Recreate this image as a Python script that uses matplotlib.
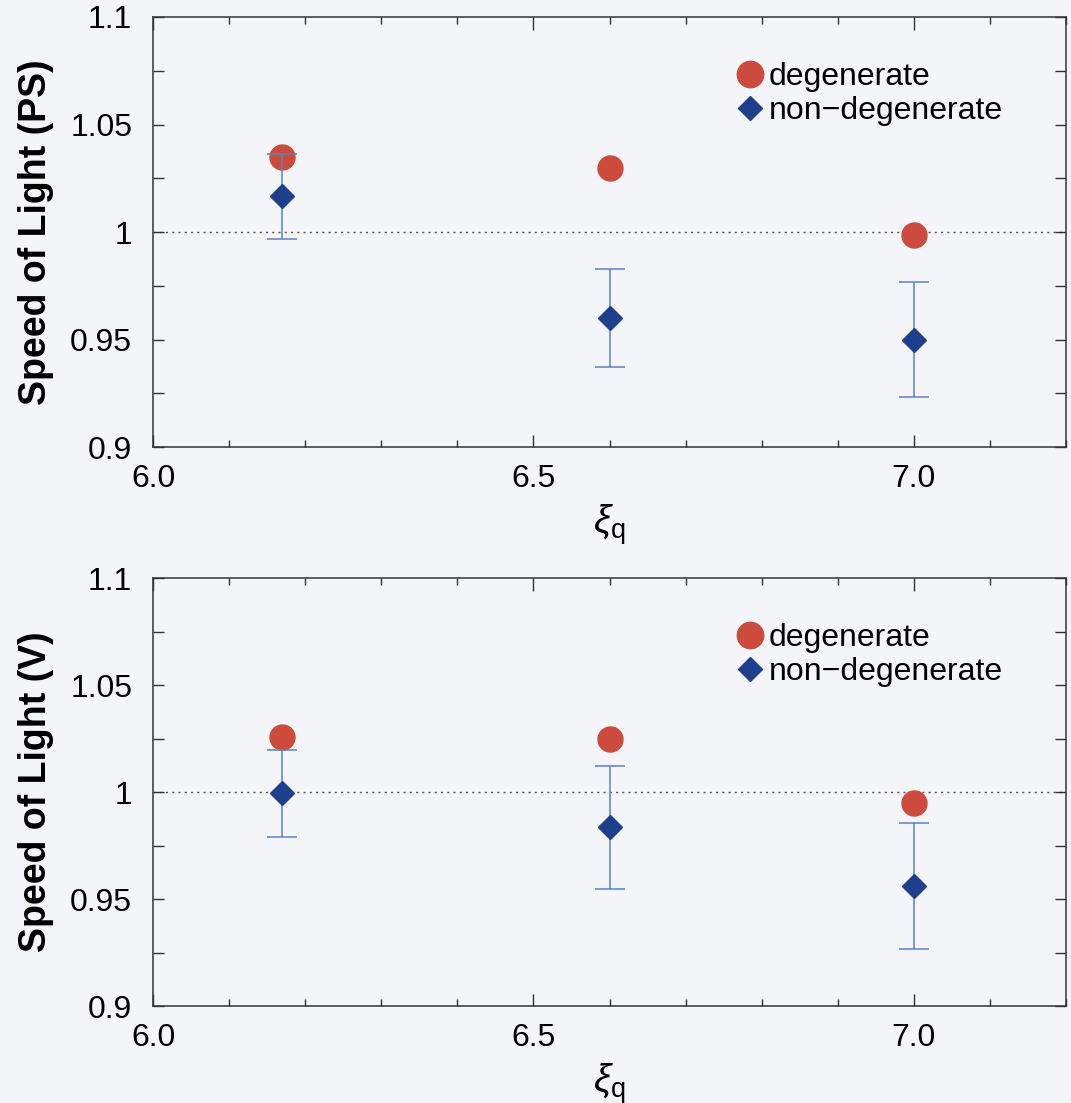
import matplotlib
matplotlib.use("Agg")
import matplotlib.pyplot as plt
from matplotlib.ticker import MultipleLocator, FuncFormatter
from matplotlib.lines import Line2D

# ---- Data ----
xi_q = [6.17, 6.6, 7.0]

ps_degen = [1.035, 1.030, 0.9985]
ps_nondegen = [1.0167, 0.960, 0.950]
ps_nondegen_err = [0.0198, 0.0228, 0.0267]

v_degen = [1.0255, 1.025, 0.995]
v_nondegen = [0.9995, 0.9835, 0.956]
v_nondegen_err = [0.0203, 0.0287, 0.0295]

panels = [
    ("Speed of Light (PS)", ps_degen, ps_nondegen, ps_nondegen_err),
    ("Speed of Light (V)", v_degen, v_nondegen, v_nondegen_err),
]

# ---- Style ----
plt.rcParams["font.family"] = ["Liberation Sans", "DejaVu Sans"]
plt.rcParams["mathtext.fontset"] = "custom"
plt.rcParams["mathtext.rm"] = "Liberation Sans"
plt.rcParams["mathtext.it"] = "Liberation Sans:italic"

BG = "#f4f5f8"
RED = "#cc4b3d"
BLUE = "#1e3f8e"
ERR = "#5a82c6"
TICK_FS = 23
DPI = 100

fig = plt.figure(figsize=(1071 / DPI, 1103 / DPI), dpi=DPI, facecolor=BG)

# axes rectangles in figure fractions (left, bottom, width, height)
rects = [
    (0.1429, 0.5947, 0.8525, 0.3899),
    (0.1429, 0.0879, 0.8525, 0.3880),
]

for rect, (ylab, degen, nondeg, nerr) in zip(rects, panels):
    ax = fig.add_axes(rect)
    ax.set_facecolor(BG)

    ax.axhline(1.0, color="#555555", lw=1.0, ls=(0, (1.5, 3)), zorder=1)

    ax.plot(xi_q, degen, ls="none", marker="o", ms=18, color=RED,
            mec=RED, zorder=2)
    ax.errorbar(xi_q, nondeg, yerr=nerr, fmt="none", ecolor=ERR,
                elinewidth=1.1, capsize=11, capthick=1.1, zorder=3)
    ax.plot(xi_q, nondeg, ls="none", marker="D", ms=12.5, color=BLUE,
            mec=BLUE, zorder=4)

    ax.set_xlim(6.0, 7.2)
    ax.set_ylim(0.9, 1.1)

    ax.xaxis.set_major_locator(MultipleLocator(0.5))
    ax.xaxis.set_minor_locator(MultipleLocator(0.1))
    ax.yaxis.set_major_locator(MultipleLocator(0.05))
    ax.yaxis.set_minor_locator(MultipleLocator(0.025))
    ax.xaxis.set_major_formatter(FuncFormatter(lambda v, p: f"{v:.1f}"))
    ax.yaxis.set_major_formatter(FuncFormatter(lambda v, p: f"{v:g}"))

    ax.tick_params(which="both", direction="in", top=True, right=True,
                   color="#333333", width=1.0, labelsize=TICK_FS)
    ax.tick_params(axis="x", which="major", length=9, pad=12)
    ax.tick_params(axis="x", which="minor", length=5)
    ax.tick_params(axis="y", which="both", length=8, pad=15)

    for sp in ax.spines.values():
        sp.set_color("#333333")
        sp.set_linewidth(1.1)

    ax.set_ylabel(ylab, fontsize=27, fontweight="bold", labelpad=12)
    ax.set_xlabel(r"$\xi_\mathrm{q}$", fontsize=28, labelpad=6)

    handles = [
        Line2D([], [], ls="none", marker="o", ms=19, color=RED),
        Line2D([], [], ls="none", marker="D", ms=12.5, color=BLUE),
    ]
    ax.legend(handles, ["degenerate", "non\u2212degenerate"],
              loc="upper left", bbox_to_anchor=(0.640, 0.895),
              frameon=False, fontsize=TICK_FS, borderpad=0,
              handlelength=0.8, handletextpad=0.18, labelspacing=0.12,
              borderaxespad=0)

fig.savefig("out.png", dpi=DPI, facecolor=BG)
